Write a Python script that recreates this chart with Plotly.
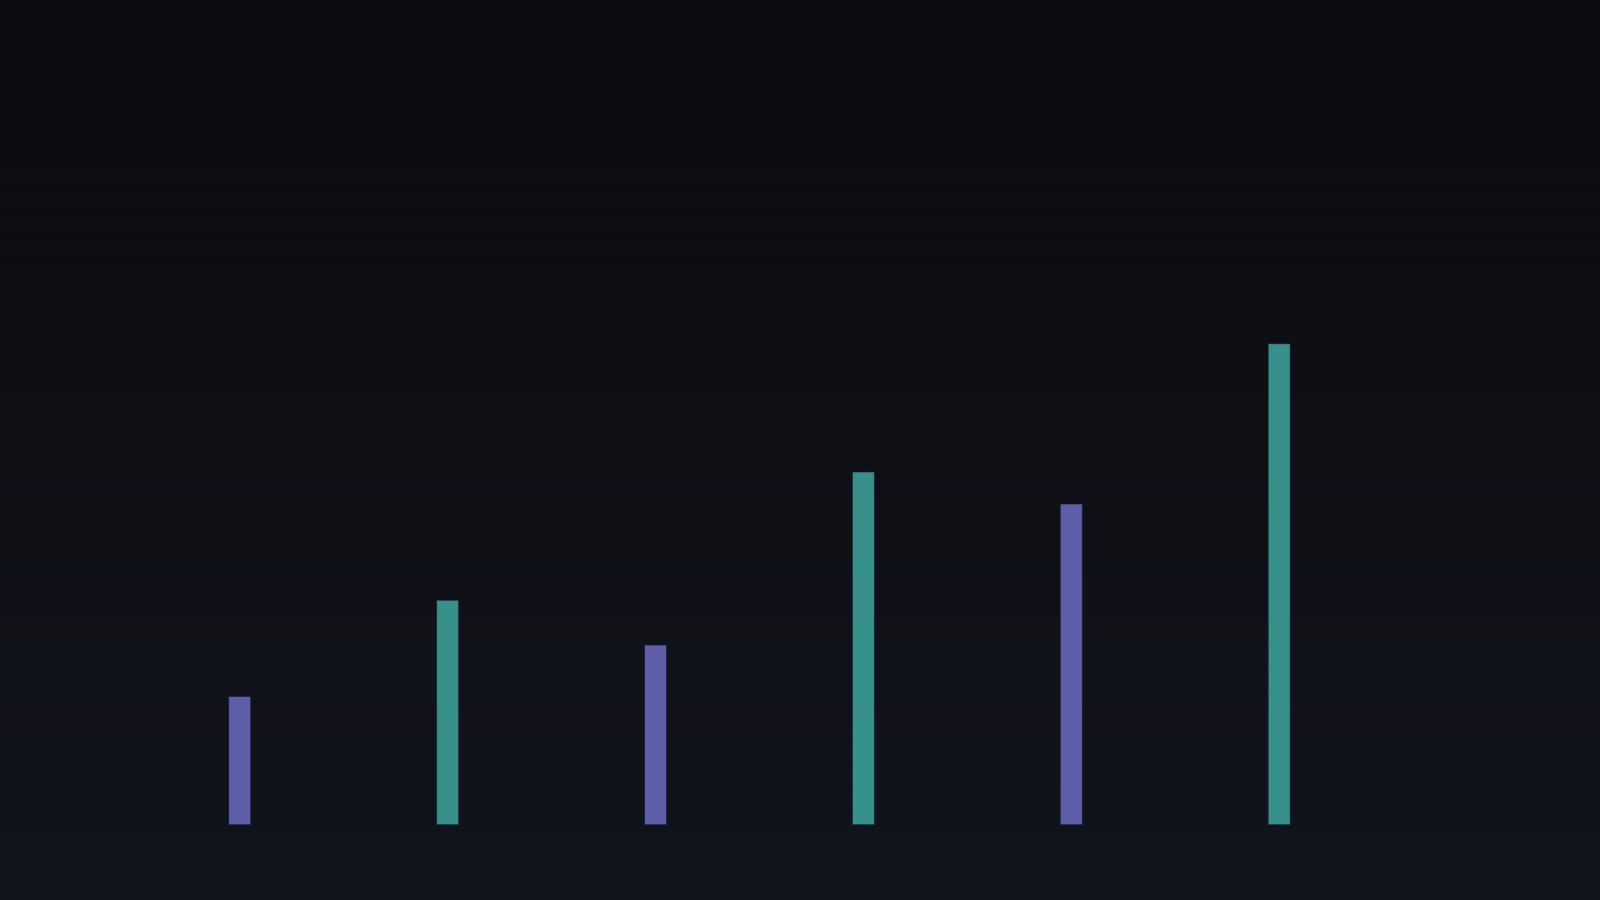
import plotly.graph_objects as go

categories = ["A", "B", "C", "D", "E", "F"]
values = [40, 70, 56, 110, 100, 150]
bar_colors = ["#5c5fa8", "#37908b", "#5c5fa8", "#37908b", "#5c5fa8", "#37908b"]

fig = go.Figure()
fig.add_trace(go.Bar(
    x=categories, y=values, width=0.106,
    marker=dict(color=bar_colors, line=dict(color="rgba(20,22,40,0.6)", width=1)),
    hoverinfo="skip", showlegend=False,
))

# vertical gradient background as thin bands
top = (11, 12, 16)
bot = (18, 20, 28)
n = 150
shapes = []
for i in range(n):
    t = i / (n - 1)
    c = tuple(round(top[k] + (bot[k] - top[k]) * t) for k in range(3))
    shapes.append(dict(type="rect", xref="paper", yref="paper",
                       x0=0, x1=1, y0=1 - (i + 1) / n, y1=1 - i / n + 0.002,
                       fillcolor="rgb(%d,%d,%d)" % c, line=dict(width=0), layer="below"))

fig.update_layout(
    width=1600, height=900,
    margin=dict(l=0, r=0, t=0, b=0, pad=0),
    paper_bgcolor="rgb(14,16,22)", plot_bgcolor="rgba(0,0,0,0)",
    shapes=shapes,
    xaxis=dict(range=[-1.153, 6.543], visible=False, fixedrange=True),
    yaxis=dict(range=[-23.5, 257.2], visible=False, fixedrange=True),
)
fig.write_html(
    "out.html",
    config={"displayModeBar": False},
    post_script="document.body.style.margin='0';document.body.style.background='rgb(14,16,22)';",
)
